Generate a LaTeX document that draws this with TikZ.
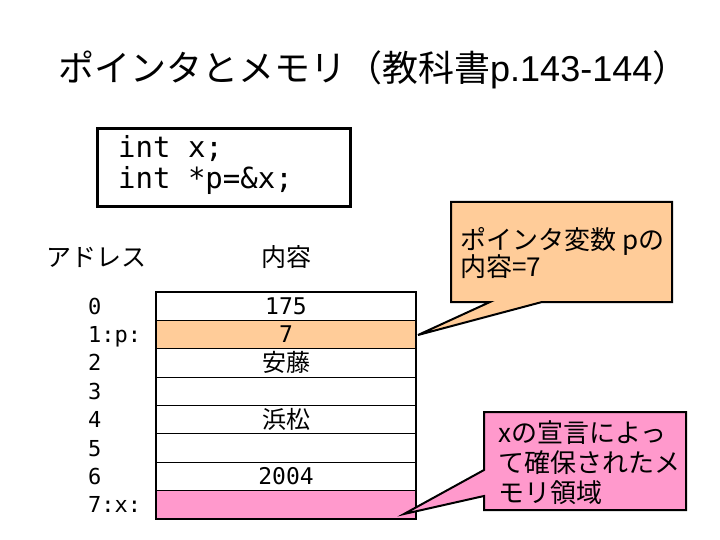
\documentclass[tikz,border=0pt]{standalone}
\usepackage{fontspec}
\setmainfont{Noto Sans CJK JP}
\newfontfamily\jp{Noto Sans CJK JP}
\newfontfamily\lat{Liberation Sans}
\setmonofont{DejaVu Sans Mono}
\definecolor{ptrorange}{HTML}{FFCC99}
\definecolor{xpink}{HTML}{FF99CC}
\tikzset{
  cell/.style={draw=black, line width=1.2pt},
  addr/.style={anchor=base west, inner sep=0pt, font=\ttfamily\fontsize{22}{26}\selectfont},
  val/.style={anchor=base, inner sep=0pt, font=\ttfamily\fontsize{23}{26}\selectfont},
  jval/.style={anchor=base, inner sep=0pt, font=\jp\fontsize{24}{26}\selectfont},
  head/.style={inner sep=0pt, font=\jp\fontsize{25}{28}\selectfont},
  codetext/.style={anchor=base west, inner sep=0pt, font=\ttfamily\fontsize{29}{32}\selectfont},
  callout/.style={draw=black, line width=2pt, line join=miter},
  ctext/.style={anchor=base west, inner sep=0pt, font=\jp\fontsize{26}{28}\selectfont},
}
\begin{document}
\begin{tikzpicture}[x=1pt,y=-1pt]
\useasboundingbox[fill=white] (0,0) rectangle (720,540);
% title
\node[anchor=west, inner sep=0pt] (title) at (58,70) {\jp\fontsize{36}{42}\selectfont ポインタとメモリ（教科書{\lat p.143-144}）};
% code box
\node[draw=black, line width=3pt, minimum width=253pt, minimum height=78pt, anchor=north west, inner sep=0pt] (codebox) at (96,127) {};
\node[codetext] (code1) at (118,158) {int x;};
\node[codetext] (code2) at (118,189) {int *p=\&x;};
% headings
\node[head] (hadr) at (96,257) {アドレス};
\node[head] (hval) at (286,257) {内容};
% memory table
\def\rh{28.375}
\foreach \i/\c in {0/white,1/ptrorange,2/white,3/white,4/white,5/white,6/white,7/xpink}{
  \path[cell, fill=\c] (156,{292+\i*\rh}) rectangle (416,{292+(\i+1)*\rh});
}
\foreach \i/\a in {0/0,1/1:p:,2/2,3/3,4/4,5/5,6/6,7/7:x:}{
  \node[addr] (addr\i) at (88,{292+(\i+0.5)*\rh+8}) {\a};
}
\node[val] (v0) at (286,{292+0.5*\rh+8}) {175};
\node[val] (v1) at (286,{292+1.5*\rh+8}) {7};
\node[jval] (v2) at (286,{292+2.5*\rh+8.5}) {安藤};
\node[jval] (v4) at (286,{292+4.5*\rh+8.5}) {浜松};
\node[val] (v6) at (286,{292+6.5*\rh+8}) {2004};
% callout 1
\coordinate (tip1) at (418,335);
\draw[callout, fill=ptrorange] (451,202) -- (672,202) -- (672,302) -- (542,302) -- (tip1) -- (490,302) -- (451,302) -- cycle;
\node[ctext] (c1a) at (460,249) {ポインタ変数 pの};
\node[ctext] (c1b) at (460,276) {内容=7};
% callout 2
\coordinate (tip2) at (404,514);
\draw[callout, fill=xpink] (484,412) -- (686,412) -- (686,510) -- (484,510) -- (484,496) -- (tip2) -- (484,470) -- cycle;
\node[ctext] (c2a) at (498,442) {xの宣言によっ};
\node[ctext] (c2b) at (498,472) {て確保されたメ};
\node[ctext] (c2c) at (498,502) {モリ領域};
\end{tikzpicture}
\end{document}
